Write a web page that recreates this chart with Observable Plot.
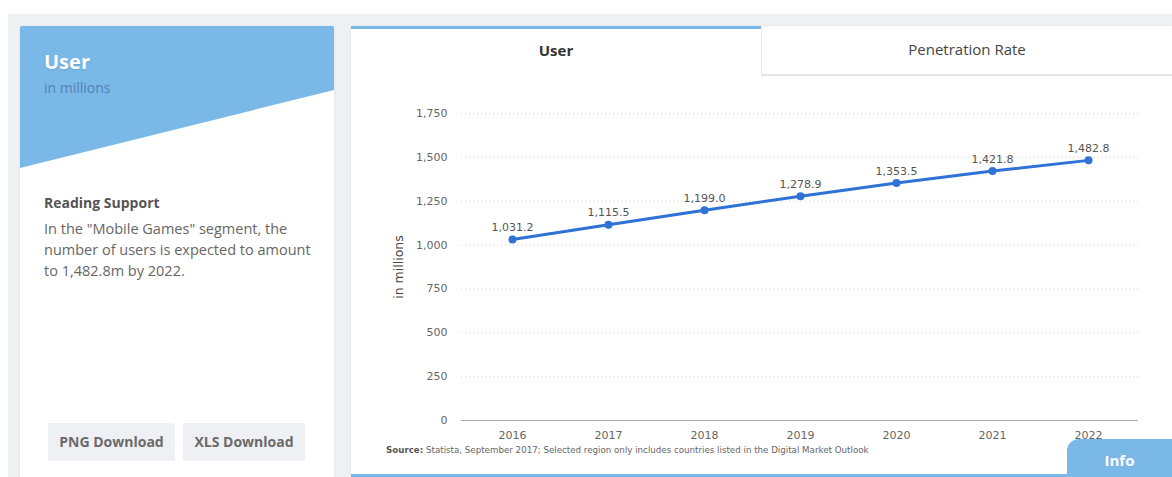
<!DOCTYPE html>
<html><head><meta charset="utf-8">
<script src="https://cdn.jsdelivr.net/npm/d3@7"></script>
<script src="https://cdn.jsdelivr.net/npm/@observablehq/plot@0.6"></script>
<style>
html,body{margin:0;padding:0;width:1172px;height:477px;overflow:hidden;background:#fff;font-family:"Open Sans",sans-serif;}
.bg{position:absolute;left:8px;top:14px;width:1164px;height:463px;background:#eef1f4;}
.card{position:absolute;background:#fff;box-shadow:0 0 2px rgba(0,0,0,0.08);}
.hdr{position:absolute;left:0;top:0;width:100%;height:142px;background:#7ab8e8;clip-path:polygon(0 0,100% 0,100% 64px,0 142px);border-radius:2px 2px 0 0;}
.abs{position:absolute;white-space:nowrap;}
.btn{position:absolute;background:#eef0f3;color:#6a6a6a;font-weight:700;font-size:14px;text-align:center;line-height:37px;border-radius:2px;box-shadow:0 1px 1px rgba(0,0,0,0.06);}
</style></head>
<body>
<div class="bg"></div>
<div class="card" style="left:20px;top:26px;width:314px;height:460px;">
  <div class="hdr"></div>
  <div class="abs" style="left:24px;top:22px;font-size:20px;font-weight:700;color:#fff;text-shadow:0 1px 2px rgba(0,0,0,0.12);">User</div>
  <div class="abs" style="left:24px;top:52px;font-size:14px;color:#5283b3;">in millions</div>
  <div class="abs" style="left:24px;top:167px;font-size:14px;font-weight:700;color:#555;">Reading Support</div>
  <div class="abs" style="left:24px;top:192px;font-size:14.5px;line-height:21px;color:#666;white-space:normal;width:275px;">In the "Mobile Games" segment, the number of users is expected to amount to 1,482.8m by 2022.</div>
  <div class="btn" style="left:28px;top:397px;width:127px;height:37px;">PNG Download</div>
  <div class="btn" style="left:163px;top:397px;width:122px;height:37px;">XLS Download</div>
</div>
<div class="card" style="left:351px;top:26px;width:821px;height:451px;">
  <div class="abs" style="left:0;top:0;width:410px;height:3px;background:#7ab8e8;"></div>
  <div class="abs" style="left:0;top:14px;width:410px;text-align:center;font-size:15px;font-weight:700;color:#333;">User</div>
  <div class="abs" style="left:411px;top:0;width:410px;height:48px;background:#fff;border-bottom:2px solid #e3e7eb;box-shadow:-1px 0 0 #e6e9ec;"></div>
  <div class="abs" style="left:411px;top:13px;width:410px;text-align:center;font-size:15px;color:#444;">Penetration Rate</div>
  <div class="abs" style="left:0;top:448px;width:821px;height:3px;background:#7ab8e8;"></div>
</div>
<div id="chart" style="position:absolute;left:351px;top:95px;"></div>
<div class="abs" style="left:386px;top:445px;font-family:'DejaVu Sans',sans-serif;font-size:8.7px;color:#666;"><b style="color:#555">Source:</b> Statista, September 2017; Selected region only includes countries listed in the Digital Market Outlook</div>
<div class="abs" style="left:1067px;top:439px;width:105px;height:38px;background:#7ab8e8;border-radius:12px 0 0 0;color:#fff;font-weight:700;font-size:15px;text-align:center;line-height:42px;">Info</div>
<script>
const years = ["2016","2017","2018","2019","2020","2021","2022"];
const users = [1031.2, 1115.5, 1199.0, 1278.9, 1353.5, 1421.8, 1482.8];
const yTicks = [0, 250, 500, 750, 1000, 1250, 1500, 1750];
const data = years.map((y, i) => ({year: y, value: users[i]}));
const fmt = d3.format(",.1f");
const blue = "#2f72d6";
const chart = Plot.plot({
  width: 821, height: 350,
  marginLeft: 110, marginRight: 34, marginTop: 18, marginBottom: 25,
  style: {fontFamily: "'DejaVu Sans', sans-serif", fontSize: "11px", color: "#666", background: "transparent"},
  x: {type: "point", domain: years, padding: 0.5, label: null},
  y: {domain: [0, 1750], label: null},
  marks: [
    Plot.gridY(yTicks, {stroke: "#cfd4d8", strokeOpacity: 1, strokeDasharray: "1,3"}),
    Plot.ruleY([0], {stroke: "#aaa"}),
    Plot.axisY(yTicks, {tickSize: 0, tickPadding: 14, tickFormat: d3.format(","), label: "in millions", labelAnchor: "center", labelArrow: "none", labelOffset: 67, fill: "#666"}),
    Plot.axisX({tickSize: 0, tickPadding: 11, fill: "#666", label: null}),
    Plot.line(data, {x: "year", y: "value", stroke: blue, strokeWidth: 3}),
    Plot.dot(data, {x: "year", y: "value", r: 4, fill: blue}),
    Plot.text(data, {x: "year", y: "value", text: d => fmt(d.value), dy: -12, fill: "#555", fontSize: 11})
  ]
});
const lab = chart.querySelector('g[aria-label="y-axis label"]');
if (lab) { lab.setAttribute("font-size", "12.5"); lab.setAttribute("fill", "#444"); lab.style.fontSize = "12.5px"; }
document.getElementById("chart").appendChild(chart);
</script>
</body></html>
